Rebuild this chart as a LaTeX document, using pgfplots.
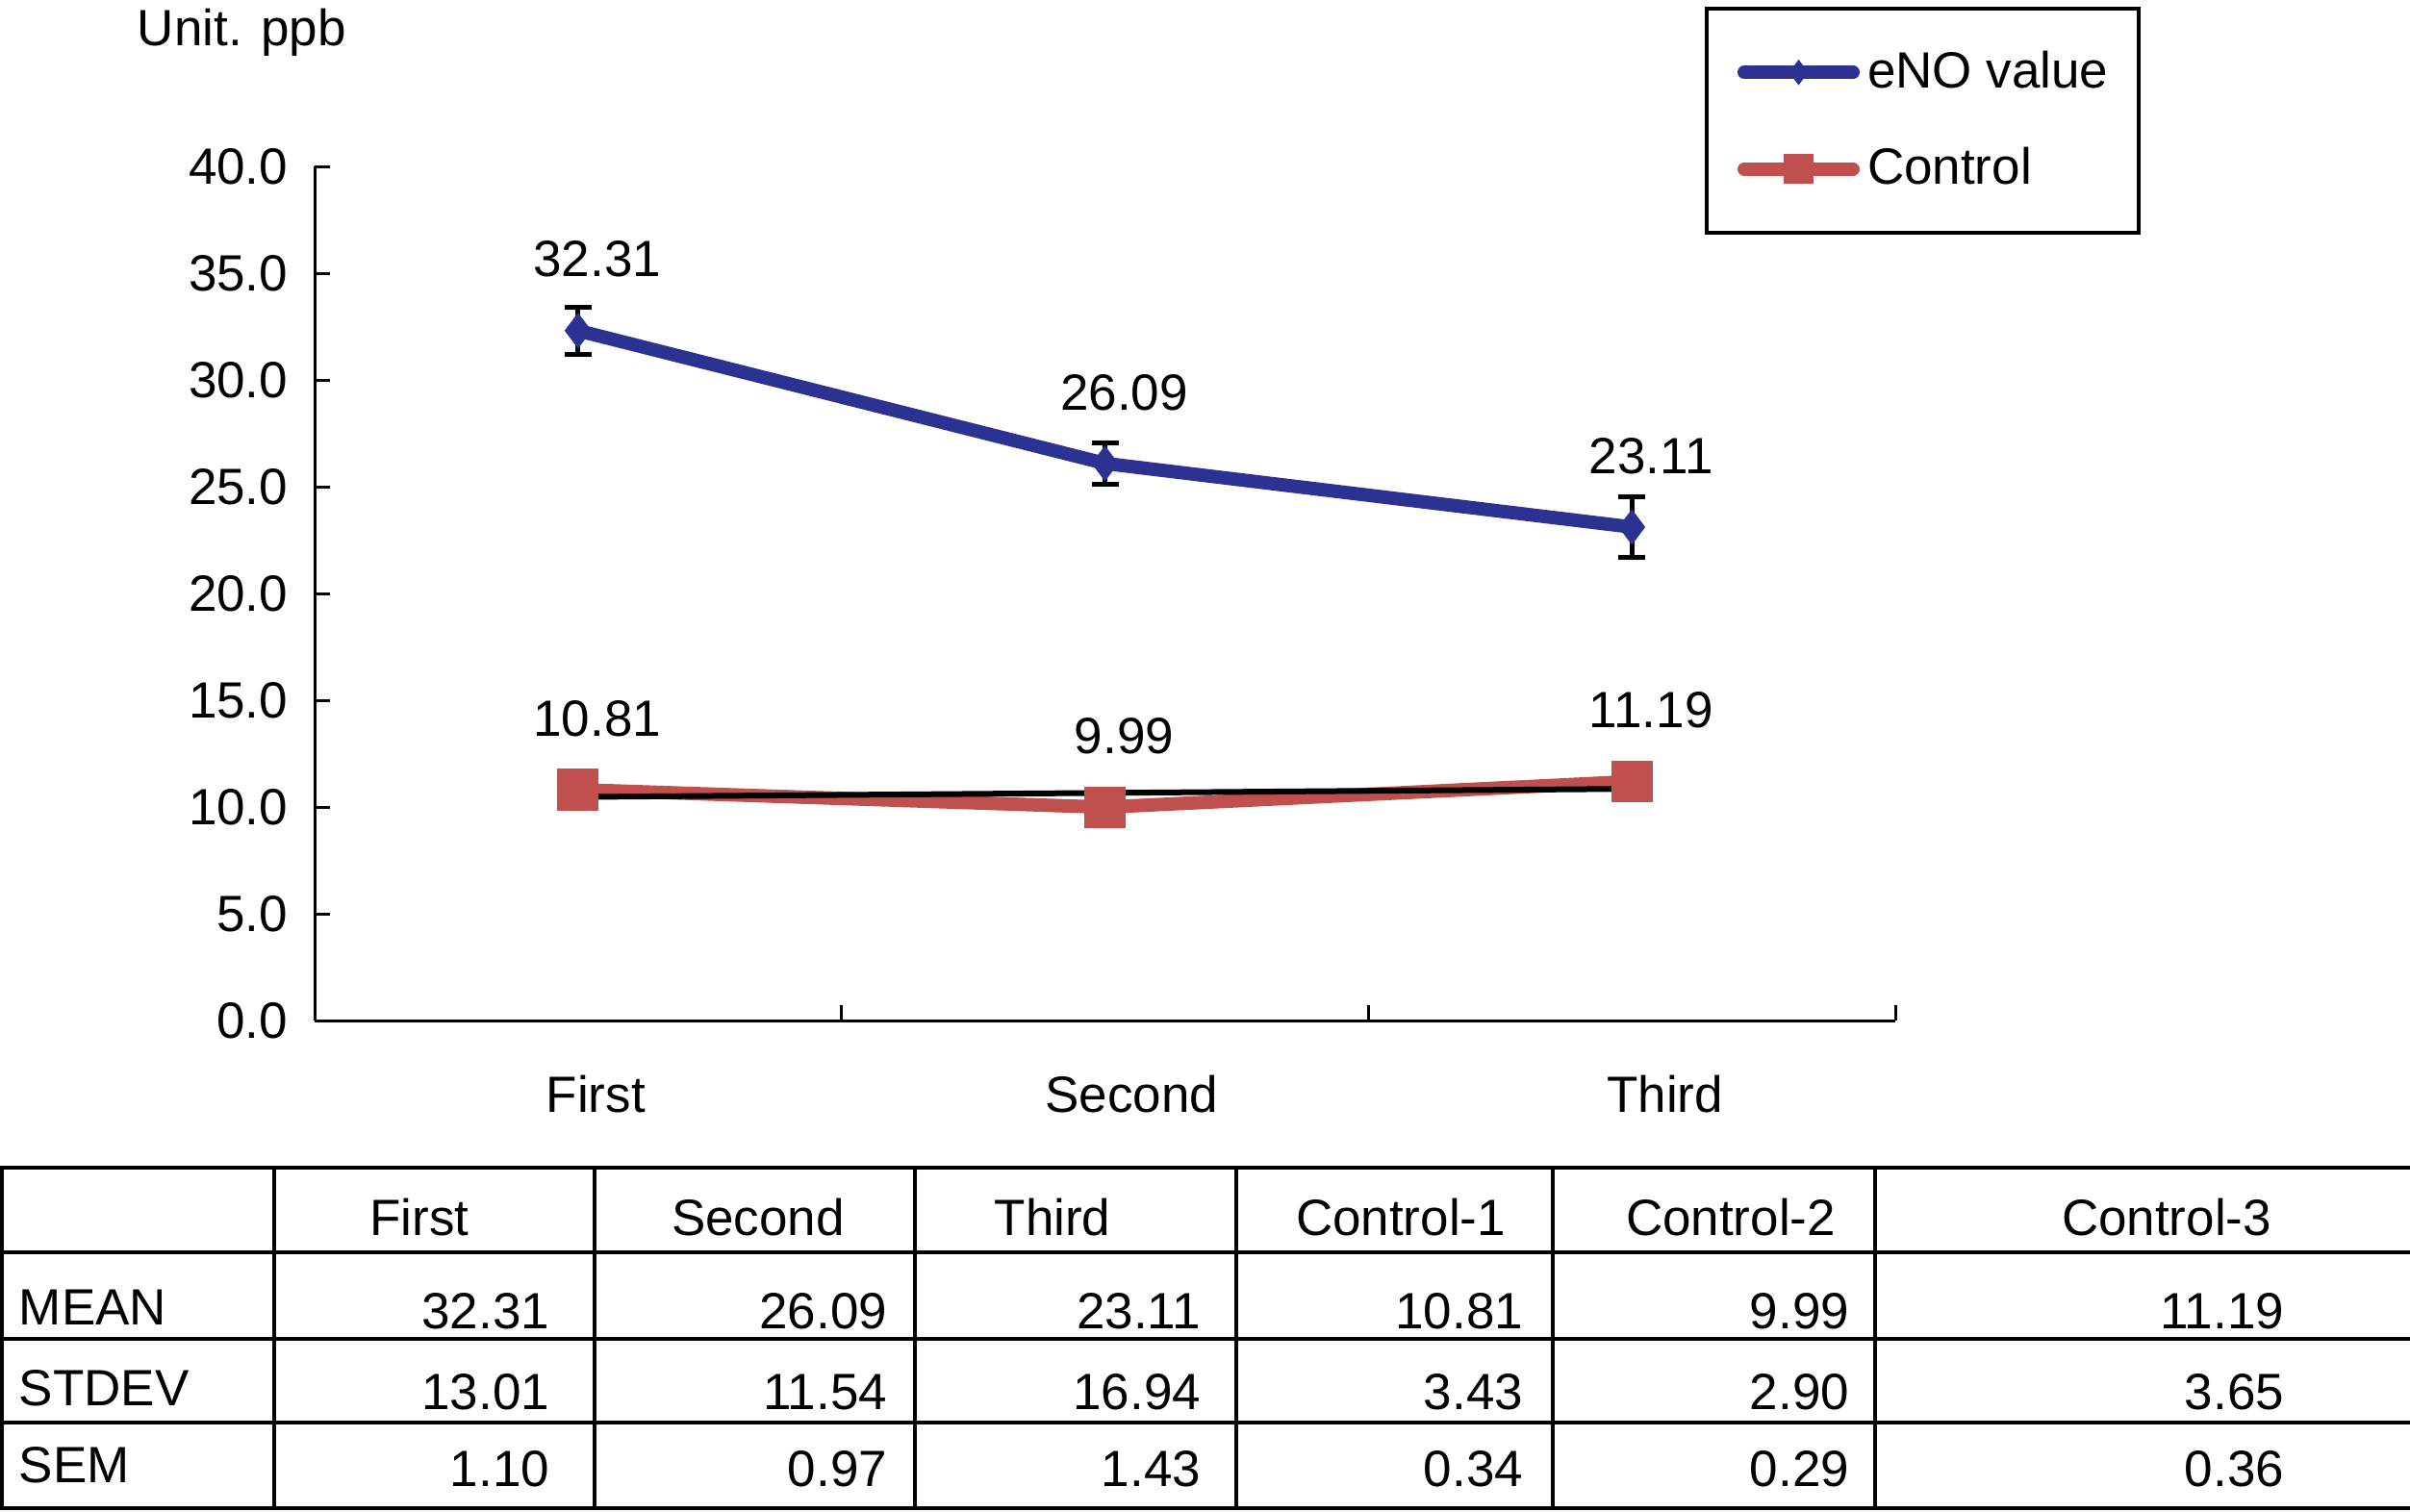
\documentclass[border=0pt]{standalone}
\usepackage{fontspec}
\setmainfont{Liberation Sans}
\usepackage{pgfplots}
\usepackage{pgfplotstable}
\pgfplotsset{compat=1.18}

\definecolor{enoblue}{RGB}{44,50,146}
\definecolor{ctrlred}{RGB}{192,80,77}
\newcommand\fs{\fontsize{13.25}{15.9}\selectfont}

% mean and SEM for each visit
\pgfplotstableread{
x y e
1 32.31 1.10
2 26.09 0.97
3 23.11 1.43
}\enotab
\pgfplotstableread{
x y e
1 10.81 0.34
2 9.99 0.29
3 11.19 0.36
}\ctrltab

\begin{document}
\begin{tikzpicture}[font=\fs]
\useasboundingbox (0,0) rectangle (626.25pt,-393pt);
\fill[white] (0,0) rectangle (626.25pt,-393pt);
\node[anchor=base west, inner sep=0pt] at (35.5pt,-12pt) {Unit. ppb};

\begin{axis}[
  at={(81.75pt,-265.25pt)}, anchor=south west,
  scale only axis, width=410.75pt, height=222pt,
  xmin=0.5, xmax=3.5, ymin=0, ymax=40,
  axis x line=bottom, axis y line=left,
  axis line style={-, line width=0.75pt},
  xtick={1,2,3},
  xticklabels={\hspace*{-4.8pt}First,Second,\hspace*{3.2pt}Third},
  minor xtick={0.5,1.5,2.5,3.5},
  ytick={0,5,...,40},
  scaled y ticks=false,
  tick align=inside,
  major tick length=4pt, minor tick length=4pt,
  tick style={black, line width=0.75pt},
  major x tick style={draw=none},
  /pgf/number format/assume math mode=true,
  every tick label/.append style={font=\fs},
  x tick label style={anchor=base, inner sep=0pt, yshift=-23.75pt, xshift=7pt},
  y tick label style={anchor=east, inner sep=0pt, xshift=-6.75pt,
    /pgf/number format/fixed, /pgf/number format/fixed zerofill,
    /pgf/number format/precision=1},
  legend style={at={(0.8795,1.1869)}, anchor=north west, draw=black,
    line width=1pt, font=\fs, inner xsep=8pt, inner ysep=11pt,
    row sep=14pt, column sep=2pt, nodes={inner sep=0pt}},
  legend cell align=left,
  legend image code/.code={\draw[mark repeat=2,mark phase=2,#1,
    every mark/.append style={scale=0.7}]
    plot coordinates {(0pt,0pt) (14.125pt,0pt) (28.25pt,0pt)};},
]
\addplot[enoblue, line width=3.5pt, line join=round, line cap=round,
  mark=diamond*, mark size=4.4pt,
  mark options={line width=0.3pt, line join=miter, draw=enoblue, fill=enoblue},
  nodes near coords={\pgfplotspointmeta}, point meta=explicit symbolic,
  every node near coord/.append style={black, anchor=center, inner sep=0pt,
    xshift=5pt, yshift=18.5pt, font=\fs},
  error bars/.cd, y dir=both, y explicit,
  error bar style={black, line width=1.2pt},
  error mark options={rotate=90, black, mark size=3.5pt, line width=1.2pt}]
  table[x=x, y=y, y error=e, meta=y] {\enotab};
\addplot[ctrlred, line width=3.5pt, line join=round, line cap=round,
  mark=square*, mark size=5.25pt,
  mark options={line width=0.3pt, line join=miter, draw=ctrlred, fill=ctrlred},
  nodes near coords={\pgfplotspointmeta}, point meta=explicit symbolic,
  every node near coord/.append style={black, anchor=center, inner sep=0pt,
    xshift=5pt, yshift=18.5pt, font=\fs}]
  table[x=x, y=y, meta=y] {\ctrltab};
% linear trend of the control means
\addplot[black, line width=1.5pt, line cap=round, mark=none, forget plot]
  coordinates {(1,10.47) (3,10.85)};
\legend{eNO value\hspace{4pt}, Control}
\end{axis}

% statistics table (coordinates in pixels of the 2505x1572 image)
\begin{scope}[x=0.25pt, y=-0.25pt, line width=1pt, line cap=rect]
  \foreach \yy in {1214,1302,1392,1479,1568} \draw (2,\yy) -- (2505,\yy);
  \foreach \xx in {2,285,618,951,1285,1614,1949} \draw (\xx,1214) -- (\xx,1568);
  \foreach \xc/\t in {436/First, 788/Second, 1094/Third, 1456/Control-1,
      1799/Control-2, 2252/Control-3}
    \node[anchor=base, inner sep=0pt] at (\xc,1284) {\t};
  \node[anchor=base west, inner sep=0pt] at (18,1377) {MEAN};
  \node[anchor=base west, inner sep=0pt] at (18,1461) {STDEV};
  \node[anchor=base west, inner sep=0pt] at (18,1541) {SEM};
  \foreach \xr/\a/\b/\c in {573/32.31/13.01/1.10, 924/26.09/11.54/0.97,
      1250/23.11/16.94/1.43, 1585/10.81/3.43/0.34, 1924/9.99/2.90/0.29,
      2376/11.19/3.65/0.36} {
    \node[anchor=base east, inner sep=0pt] at (\xr,1381) {\a};
    \node[anchor=base east, inner sep=0pt] at (\xr,1465) {\b};
    \node[anchor=base east, inner sep=0pt] at (\xr,1545) {\c};
  }
\end{scope}
\end{tikzpicture}
\end{document}
